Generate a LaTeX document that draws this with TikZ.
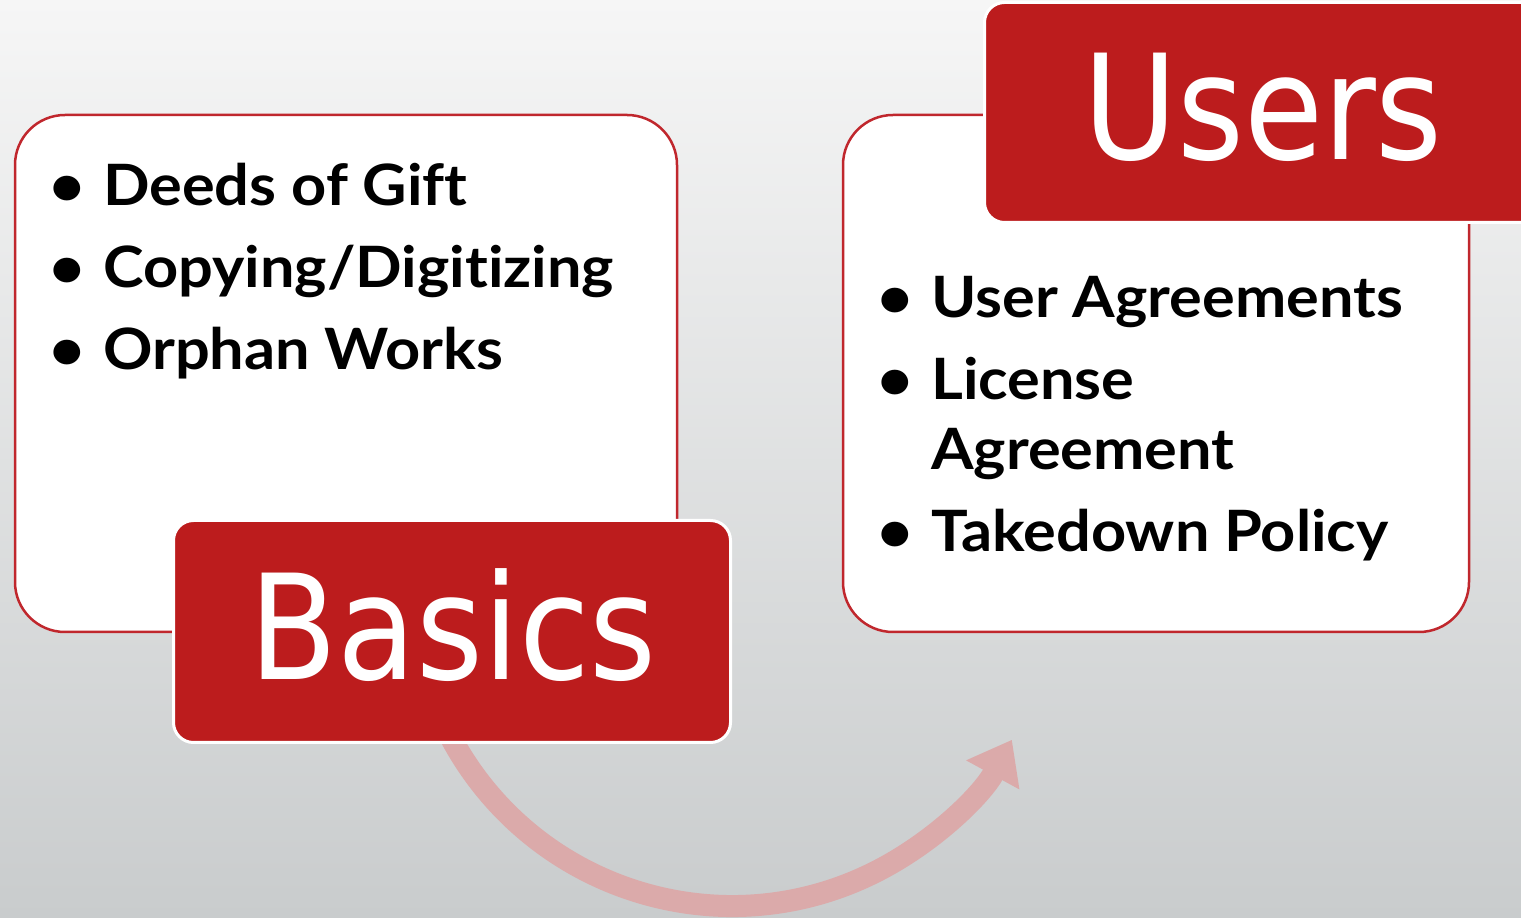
\documentclass[tikz,border=0pt]{standalone}
\usepackage{fontspec}
\setmainfont{Lato}[FakeStretch=1.075, Ligatures={NoCommon}]
\newfontfamily\titlefont[FakeStretch=0.88]{DejaVu Sans}
\usetikzlibrary{arrows.meta}
\definecolor{boxred}{HTML}{BC1C1D}
\definecolor{edgered}{HTML}{C0272D}
\definecolor{arrowpink}{HTML}{DBAAAA}
\definecolor{bgtop}{HTML}{F6F6F6}
\definecolor{bgbot}{HTML}{C9CCCD}
\tikzset{
  panel/.style={draw=edgered, line width=2.5pt, fill=white, rounded corners=50pt},
  tab/.style={draw=white, line width=3pt, fill=boxred, rounded corners=20pt},
  tabtext/.style={text=white, font=\titlefont\fontsize{146}{150}\selectfont, inner sep=0pt, anchor=base},
  item/.style={font=\bfseries\fontsize{57}{60}\selectfont, inner sep=0pt, anchor=base west},
  bul/.style={font=\bfseries\fontsize{57}{60}\selectfont, inner sep=0pt, anchor=base},
}
\begin{document}
\begin{tikzpicture}[x=1pt,y=1pt]
\useasboundingbox (0,0) rectangle (1521,918);
\shade[top color=bgtop, bottom color=bgbot] (0,0) rectangle (1521,918);
% arrow
\coordinate (arcstart) at ({732+318.8*cos(208)},{330.8+318.8*sin(208)});
\draw[arrowpink, line width=22pt, -{Triangle[length=40pt,width=58pt]}]
  (arcstart) arc[start angle=208, end angle=331.4, radius=318.8];
% panels
\draw[panel] (15,286) rectangle (677,803);
\draw[panel] (843,286) rectangle (1469,803);
\node[tab, minimum width=557pt, minimum height=222pt, anchor=south west] (basics) at (172,174) {};
\node[tab, minimum width=557pt, minimum height=220pt, anchor=south west] (users) at (983,694) {};
\node[tabtext] (basicst) at (453,238) {Basics};
\node[tabtext] (userst) at (1263,758) {Users};
% left items
\node[bul] (b1) at (67,712) {•};
\node[item] (t1) at (103,712) {Deeds of Gift};
\node[bul] (b2) at (67,630) {•};
\node[item] (t2) at (103,630) {Copying/Digitizing};
\node[bul] (b3) at (67,548) {•};
\node[item] (t3) at (103,548) {Orphan Works};
% right items
\node[bul] (b4) at (895,600) {•};
\node[item] (t4) at (931,600) {User Agreements};
\node[bul] (b5) at (895,518) {•};
\node[item] (t5) at (931,518) {License};
\node[item] (t6) at (931,448) {Agreement};
\node[bul] (b7) at (895,366) {•};
\node[item] (t7) at (931,366) {Takedown Policy};
\end{tikzpicture}
\end{document}
